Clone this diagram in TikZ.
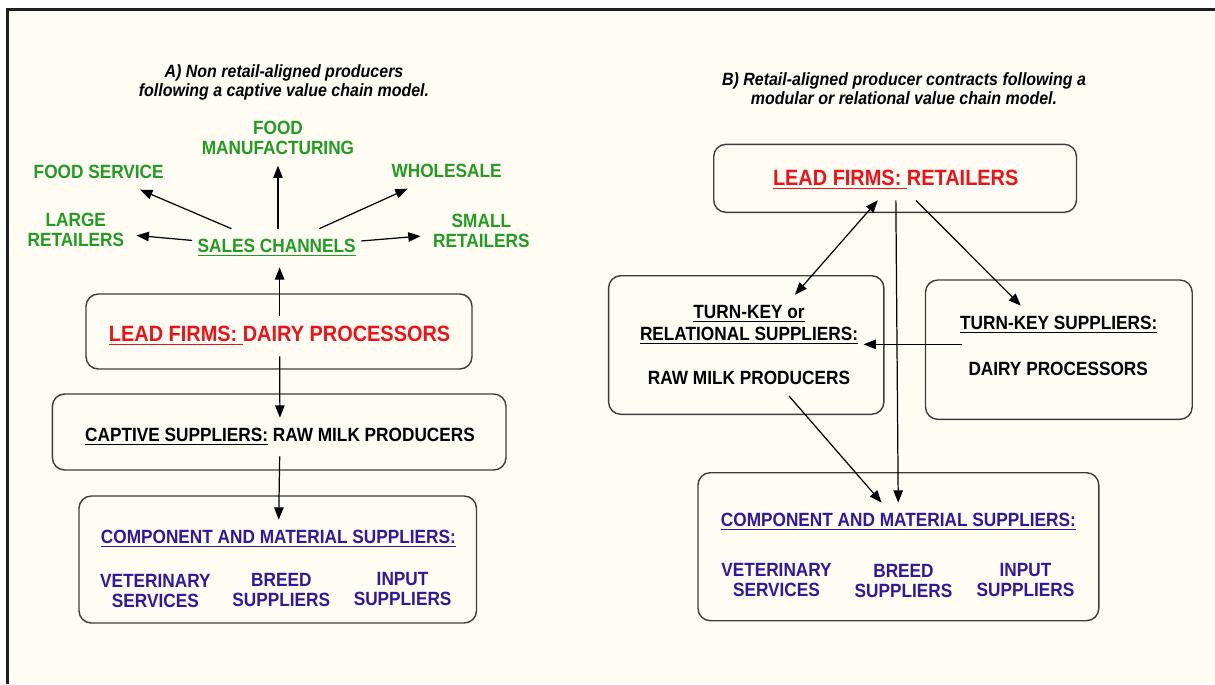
\documentclass[tikz,border=0pt]{standalone}
\usepackage{fontspec}
\setmainfont{Liberation Sans}[FakeStretch=0.9]
\usetikzlibrary{arrows.meta,fit}

\definecolor{paper}{RGB}{254,252,243}
\definecolor{framegray}{RGB}{30,30,30}
\definecolor{boxgray}{RGB}{60,60,60}
\definecolor{chgreen}{RGB}{35,155,35}
\definecolor{leadred}{RGB}{236,18,24}
\definecolor{suppblue}{RGB}{45,25,155}

\newcommand{\undl}[1]{\setbox0=\hbox{#1}\rlap{\rule[-2pt]{\wd0}{0.75pt}}\box0\relax}

\tikzset{
  box/.style={draw=boxgray, line width=0.8pt, rounded corners=7pt, inner sep=0pt},
  lbl/.style={font=\fontsize{10.9pt}{11.4pt}\selectfont\bfseries, align=center,
    inner xsep=3pt, inner ysep=6pt},
  chan/.style={lbl, text=chgreen},
  supp/.style={lbl, text=suppblue},
  lead/.style={lbl, text=leadred, font=\fontsize{12.6pt}{13pt}\selectfont\bfseries},
  ttl/.style={font=\fontsize{10.1pt}{10.8pt}\selectfont\bfseries\itshape, align=center},
  arr/.style={-{Triangle[length=7pt,width=5.4pt]}, line width=0.7pt},
  arr2/.style={{Triangle[length=7pt,width=5.4pt]}-{Triangle[length=7pt,width=5.4pt]},
    line width=0.7pt}
}

\begin{document}
\begin{tikzpicture}[x=0.02cm, y=-0.02cm]
  \useasboundingbox (0,0) rectangle (1215,684);
  \fill[white] (0,0) rectangle (1215,684);
  \fill[paper] (7.5,9.5) rectangle (1215,684);
  \draw[framegray, line width=1.2pt] (7.5,684) -- (7.5,9.5) -- (1215,9.5);

  % A) captive chain
  \node[ttl] (ttlA) at (284,82.5) {A) Non retail-aligned producers\\following a captive value chain model.};
  \node[chan] (fmanu) at (278,138) {FOOD\\MANUFACTURING};
  \node[chan] (fserv) at (98.7,172) {FOOD SERVICE};
  \node[chan] (whole) at (446.6,171) {WHOLESALE};
  \node[chan] (large) at (75.8,230) {LARGE\\RETAILERS};
  \node[chan] (small) at (481.4,231) {SMALL\\RETAILERS};
  \node[chan] (sales) at (276.7,248) {\undl{SALES CHANNELS}};

  \node[box, fit={(86,294) (472,369)}] (leadL) {};
  \node[box, fit={(52.4,394) (506,470)}] (captL) {};
  \node[box, fit={(79,496) (476.5,623)}] (compL) {};
  \node[lead] (leadLt) at (279.6,336) {\undl{LEAD FIRMS: }DAIRY PROCESSORS};
  \node[lbl] (captLt) at (280,437) {\undl{CAPTIVE SUPPLIERS:} RAW MILK PRODUCERS};
  \node[supp] (compLt) at (278.4,539) {\undl{COMPONENT AND MATERIAL SUPPLIERS:}};
  \node[supp] (vetL) at (155.4,591) {VETERINARY\\SERVICES};
  \node[supp] (breedL) at (281.3,590) {BREED\\SUPPLIERS};
  \node[supp] (inputL) at (402.6,589) {INPUT\\SUPPLIERS};

  \draw[arr] (sales) -- (fserv);
  \draw[arr] (sales.north -| fmanu) -- (fmanu);
  \draw[arr] (sales) -- (whole);
  \draw[arr, shorten >=4pt] (sales) -- (large);
  \draw[arr, shorten >=4pt] (sales) -- (small);
  \draw[arr] (leadLt) -- (leadLt |- sales.south);
  \draw[arr] (leadLt) -- (captLt);
  \draw[arr] (captLt) -- (compLt);

  % B) modular / relational chain
  \node[ttl] (ttlB) at (904,88.5) {B) Retail-aligned producer contracts following a\\modular or relational value chain model.};
  \node[box, fit={(713.7,144.3) (1076.5,212.3)}] (leadR) {};
  \node[box, fit={(608.6,275.7) (883.9,414.3)}] (tkrL) {};
  \node[box, fit={(925.5,280) (1192.2,419.3)}] (tksR) {};
  \node[box, fit={(698,472.7) (1098.8,620.7)}] (compR) {};
  \node[lead] (leadRt) at (895.7,180) {\undl{LEAD FIRMS: }RETAILERS};
  \node[lbl, font=\fontsize{10.9pt}{12.5pt}\selectfont\bfseries] (tkrLt) at (749,325)
    {\undl{TURN-KEY or}\\\undl{RELATIONAL SUPPLIERS:}};
  \node[lbl] (rawR) at (749,378.3) {RAW MILK PRODUCERS};
  \node[lbl] (tksRt) at (1058.8,325) {\undl{TURN-KEY SUPPLIERS:}};
  \node[lbl] (dairyR) at (1058.2,369.3) {DAIRY PROCESSORS};
  \node[supp] (compRt) at (898.4,522) {\undl{COMPONENT AND MATERIAL SUPPLIERS:}};
  \node[supp] (vetR) at (776.5,580) {VETERINARY\\SERVICES};
  \node[supp] (breedR) at (903.5,581.2) {BREED\\SUPPLIERS};
  \node[supp] (inputR) at (1025.5,580) {INPUT\\SUPPLIERS};

  \draw[arr2] (leadRt) -- ([shift={(46,0)}]tkrLt.north);
  \draw[arr] (leadRt) -- (compRt);
  \draw[arr] (leadRt) -- ([shift={(-38,0)}]tksRt.north);
  \draw[arr, shorten <=-4pt] (tksRt.south west) -- (tksRt.south west -| tkrLt.east);
  \draw[arr] ([shift={(40,0)}]rawR.south) -- (compRt);
\end{tikzpicture}
\end{document}
